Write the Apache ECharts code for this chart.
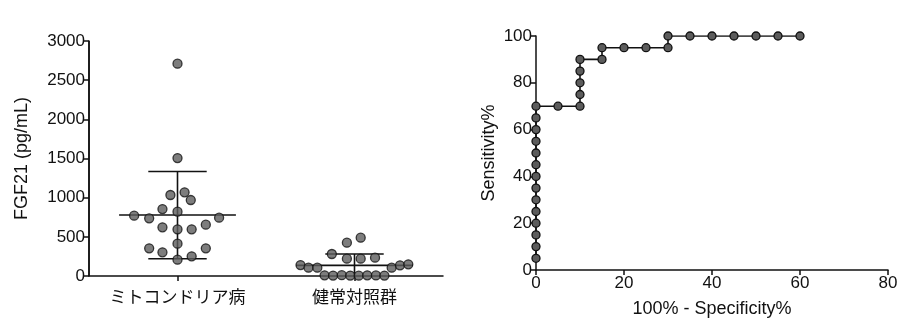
<!DOCTYPE html>
<html>
<head>
<meta charset="utf-8">
<script src="https://cdn.jsdelivr.net/npm/echarts@6/dist/echarts.min.js"></script>
<style>
  html, body { margin: 0; padding: 0; background: #fff; }
  #main { width: 902px; height: 331px; }
</style>
</head>
<body>
<div id="main"></div>
<script>
// groups on the left panel
var groupNames = ['ミトコンドリア病', '健常対照群'];

// FGF21 values (pg/mL) and horizontal jitter (fraction of group spacing)
var mitoValues = [2710, 1506, 1034, 1068, 970, 855, 821, 770, 736, 745, 621, 596, 596, 655, 413, 353, 353, 302, 251, 208];
var mitoJitter = [0, 0, -0.04, 0.04, 0.075, -0.085, 0, -0.245, -0.16, 0.235, -0.085, 0, 0.08, 0.16, 0, -0.16, 0.16, -0.085, 0.08, 0];
var ctrlValues = [489, 425, 281, 221, 221, 234, 140, 106, 106, 106, 136, 149, 8, 5, 10, 6, 4, 9, 7, 5];
var ctrlJitter = [0.035, -0.043, -0.128, -0.043, 0.035, 0.116, -0.305, -0.26, -0.21, 0.21, 0.257, 0.304, -0.169, -0.121, -0.072, -0.024, 0.024, 0.072, 0.121, 0.169];

// mean and SD per group
var groupMean = [778, 136];
var groupSD = [557, 145];

// ROC curve
var rocX = [0, 0, 0, 0, 0, 0, 0, 0, 0, 0, 0, 0, 0, 0, 5, 10, 10, 10, 10, 10, 15, 15, 20, 25, 30, 30, 35, 40, 45, 50, 55, 60];
var rocY = [5, 10, 15, 20, 25, 30, 35, 40, 45, 50, 55, 60, 65, 70, 70, 70, 75, 80, 85, 90, 90, 95, 95, 95, 95, 100, 100, 100, 100, 100, 100, 100];

var leftTicks = { min: 0, max: 3000, interval: 500 };
var rocTicksX = { min: 0, max: 80, interval: 20 };
var rocTicksY = { min: 0, max: 100, interval: 20 };

var chart = echarts.init(document.getElementById('main'), null, { renderer: 'canvas' });

var ink = '#111';
var numFont = 'Liberation Sans, Arial, sans-serif';
var jpFont = '"Noto Sans CJK JP", sans-serif';

function lineOf() {
  return { show: true, lineStyle: { color: ink, width: 1.5 } };
}
function tickOf() {
  return { show: true, inside: false, length: 5, lineStyle: { color: ink, width: 1.5 } };
}
var numLabel = {
  color: ink, fontFamily: numFont, fontSize: 17, margin: 4,
  formatter: function (v) { return String(v); }
};

var marker = { color: '#5c5c5c', borderColor: '#111', borderWidth: 1.3 };

// group centres sit at 0.5 and 1.5 on a 0..2 axis
var groupPos = groupNames.map(function (n, i) { return i + 0.5; });

var scatterData = [];
mitoValues.forEach(function (v, i) { scatterData.push([groupPos[0] + mitoJitter[i], v]); });
ctrlValues.forEach(function (v, i) { scatterData.push([groupPos[1] + ctrlJitter[i], v]); });

var errData = groupMean.map(function (m, i) { return [groupPos[i], m, groupSD[i]]; });

var rocData = rocX.map(function (x, i) { return [x, rocY[i]]; });

var option = {
  backgroundColor: '#fff',
  animation: false,
  grid: [
    { left: 89, top: 41, width: 354, height: 235 },
    { left: 536, top: 36, width: 352, height: 234 }
  ],
  xAxis: [
    {
      type: 'value', gridIndex: 0, min: 0, max: 2,
      axisLine: lineOf(),
      axisTick: { show: true, customValues: groupPos, length: 5, lineStyle: { color: ink, width: 1.5 } },
      axisLabel: {
        color: ink, fontFamily: jpFont, fontSize: 17, margin: 12,
        customValues: groupPos,
        formatter: function (v) { return groupNames[Math.round(v - 0.5)] || ''; }
      },
      splitLine: { show: false }
    },
    {
      type: 'value', gridIndex: 1, min: rocTicksX.min, max: rocTicksX.max, interval: rocTicksX.interval,
      name: '100% - Specificity%', nameLocation: 'middle', nameGap: 30,
      nameTextStyle: { color: ink, fontFamily: numFont, fontSize: 18 },
      axisLine: lineOf(), axisTick: tickOf(),
      axisLabel: { color: ink, fontFamily: numFont, fontSize: 17, margin: 5 },
      splitLine: { show: false }
    }
  ],
  yAxis: [
    {
      type: 'value', gridIndex: 0, min: leftTicks.min, max: leftTicks.max, interval: leftTicks.interval,
      name: 'FGF21 (pg/mL)', nameLocation: 'middle', nameGap: 58,
      nameTextStyle: { color: ink, fontFamily: numFont, fontSize: 18 },
      axisLine: lineOf(), axisTick: tickOf(), axisLabel: numLabel,
      splitLine: { show: false }
    },
    {
      type: 'value', gridIndex: 1, min: rocTicksY.min, max: rocTicksY.max, interval: rocTicksY.interval,
      name: 'Sensitivity%', nameLocation: 'middle', nameGap: 38,
      nameTextStyle: { color: ink, fontFamily: numFont, fontSize: 18 },
      axisLine: lineOf(), axisTick: tickOf(), axisLabel: numLabel,
      splitLine: { show: false }
    }
  ],
  series: [
    {
      type: 'custom', xAxisIndex: 0, yAxisIndex: 0, z: 3,
      data: errData,
      renderItem: function (params, api) {
        var g = api.value(0), m = api.value(1), sd = api.value(2);
        var lo = Math.max(0, m - sd), hi = m + sd;
        var style = { stroke: ink, lineWidth: 1.6 };
        var pMl = api.coord([g - 0.33, m]), pMr = api.coord([g + 0.33, m]);
        var pHi = api.coord([g, hi]), pLo = api.coord([g, lo]);
        var capL = api.coord([g - 0.165, hi]), capR = api.coord([g + 0.165, hi]);
        var capL2 = api.coord([g - 0.165, lo]), capR2 = api.coord([g + 0.165, lo]);
        var children = [
          { type: 'line', shape: { x1: pMl[0], y1: pMl[1], x2: pMr[0], y2: pMr[1] }, style: style },
          { type: 'line', shape: { x1: pHi[0], y1: pHi[1], x2: pLo[0], y2: pLo[1] }, style: style },
          { type: 'line', shape: { x1: capL[0], y1: capL[1], x2: capR[0], y2: capR[1] }, style: style }
        ];
        if (m - sd > 0) {
          children.push({ type: 'line', shape: { x1: capL2[0], y1: capL2[1], x2: capR2[0], y2: capR2[1] }, style: style });
        }
        return { type: 'group', children: children };
      }
    },
    {
      type: 'scatter', xAxisIndex: 0, yAxisIndex: 0, z: 4,
      symbol: 'circle', symbolSize: 9,
      itemStyle: marker,
      data: scatterData,
      // left spine of the dot plot, on x = 0
      markLine: {
        silent: true, symbol: 'none', label: { show: false },
        lineStyle: { color: ink, width: 1.5, type: 'solid' },
        data: [{ xAxis: 0 }]
      }
    },
    {
      type: 'line', xAxisIndex: 1, yAxisIndex: 1,
      symbol: 'circle', symbolSize: 8, showAllSymbol: true,
      lineStyle: { color: ink, width: 1.6 },
      itemStyle: marker,
      data: rocData
    }
  ]
};

chart.setOption(option);
</script>
</body>
</html>
